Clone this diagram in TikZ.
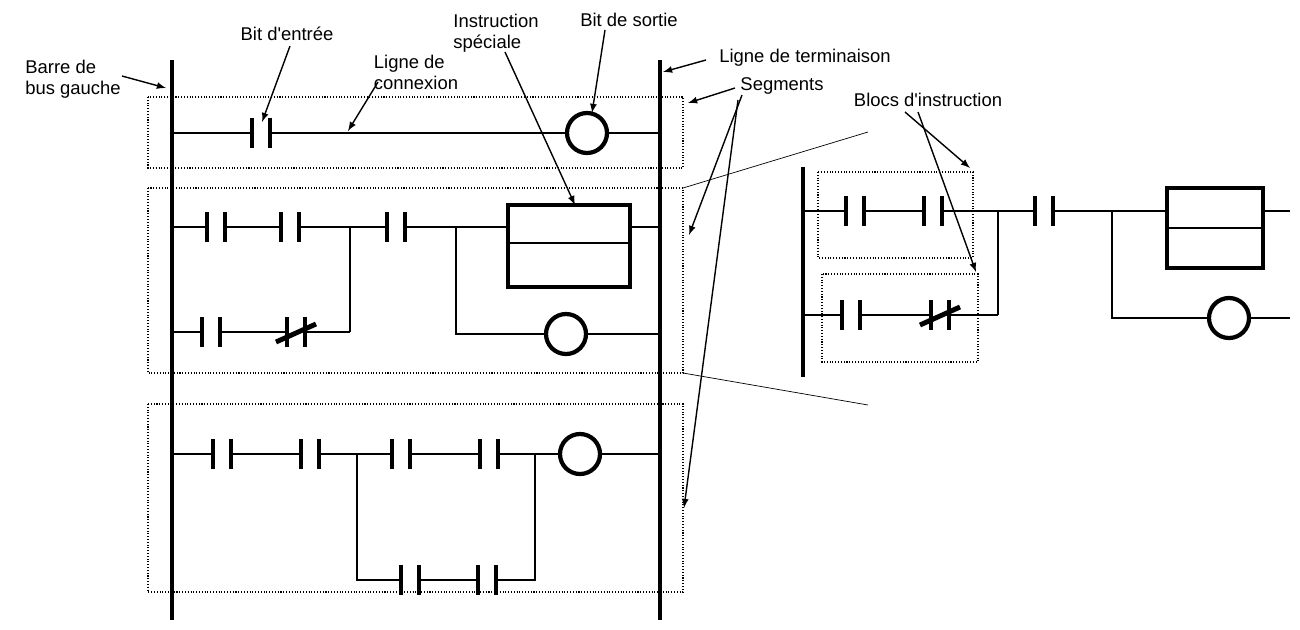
\documentclass[tikz,border=0pt]{standalone}
\usepackage{fontspec}
\setmainfont{Liberation Sans}
\usetikzlibrary{positioning}

% rung elements
\newcommand{\nocont}[2]{%
  \fill[white] (#1-8,#2-4) rectangle (#1+8,#2+4);
  \draw[contact] (#1-9,#2-15) -- (#1-9,#2+15) (#1+9,#2-15) -- (#1+9,#2+15);}
\newcommand{\nccont}[2]{%
  \nocont{#1}{#2}
  \draw[contact] (#1-20,#2+10) -- (#1+20,#2-8);}
\newcommand{\outcoil}[2]{%
  \filldraw[coil,fill=white] (#1,#2) circle[radius=20];}

\begin{document}
\begin{tikzpicture}[x=0.02cm,y=-0.02cm,
    rail/.style={line width=1.8pt},
    wire/.style={line width=1.2pt},
    contact/.style={line width=2.8pt},
    coil/.style={line width=2.4pt},
    frame/.style={densely dotted,line width=0.6pt},
    lab/.style={font=\fontsize{10.5}{12}\selectfont,align=left,inner sep=1pt},
    ptr/.style={-latex,line width=0.8pt}]
\useasboundingbox (0,0) rectangle (1300,629);

% segment frames
\draw[frame] (148,97) rectangle (683,168);
\draw[frame] (148,188) rectangle (683,373);
\draw[frame] (148,404) rectangle (683,592);

% rails
\draw[rail] (172,60) -- (172,620);
\draw[rail] (660,60) -- (660,620);

% segment 1
\draw[wire] (172,133) -- (660,133);
\nocont{261}{133}
\outcoil{587}{133}

% segment 2
\draw[wire] (172,227) -- (508,227) (630,227) -- (660,227);
\draw[wire] (350,227) -- (350,332) (172,332) -- (350,332);
\draw[wire] (456,227) -- (456,334) -- (660,334);
\nocont{216}{227}
\nocont{290}{227}
\nocont{396}{227}
\nocont{211}{332}
\nccont{296}{332}
\draw[line width=2pt] (508,205) rectangle (630,287);
\draw[wire] (508,243) -- (630,243);
\outcoil{566}{334}

% segment 3
\draw[wire] (172,454) -- (660,454);
\draw[wire] (357,454) -- (357,580) -- (535,580) -- (535,454);
\nocont{222}{454}
\nocont{310}{454}
\nocont{401}{454}
\nocont{489}{454}
\nocont{410}{580}
\nocont{487}{580}
\outcoil{580}{454}

% zoomed segment
\draw[thin] (683,188) -- (868,132);
\draw[thin] (683,373) -- (868,405);
\draw[frame] (818,172) rectangle (973,258);
\draw[frame] (822,274) rectangle (978,362);
\draw[rail] (803,167) -- (803,377);
\draw[wire] (803,211) -- (1167,211) (1263,211) -- (1290,211);
\draw[wire] (998,211) -- (998,315) (803,315) -- (998,315);
\draw[wire] (1112,211) -- (1112,318) -- (1290,318);
\nocont{855}{211}
\nocont{933}{211}
\nocont{1044}{211}
\nocont{851}{315}
\nccont{940}{315}
\draw[line width=2pt] (1167,188) rectangle (1263,268);
\draw[wire] (1167,228) -- (1263,228);
\outcoil{1229}{318}

% labels
\node[lab] (barre) at (73,79) {Barre de\\bus gauche};
\node[lab] (bitin) at (287,34) {Bit d\textquotesingle entrée};
\node[lab] (ligne) at (416,72) {Ligne de\\connexion};
\node[lab] (instr) at (496,33) {Instruction\\spéciale};
\node[lab] (bitout) at (629,20) {Bit de sortie};
\node[lab] (term) at (805,58) {Ligne de terminaison};
\node[lab] (segs) at (782,86) {Segments};
\node[lab] (blocs) at (928,100) {Blocs d\textquotesingle instruction};

\coordinate (pBarre) at (166,88);
\coordinate (pBitin) at (262,122);
\coordinate (pLigne) at (348,131);
\coordinate (pInstr) at (575,205);
\coordinate (pBitout) at (592,113);
\coordinate (pTerm) at (663,72);
\coordinate (pSeg1) at (688,103);
\coordinate (pSeg2) at (689,235);
\coordinate (pSeg3) at (684,508);
\coordinate (pBlk1) at (970,168);
\coordinate (pBlk2) at (976,272);

\draw[ptr] (122,76) -- (pBarre);
\draw[ptr] (290,46) -- (pBitin);
\draw[ptr] (378,82) -- (pLigne);
\draw[ptr] (505,52) -- (pInstr);
\draw[ptr] (605,30) -- (pBitout);
\draw[ptr] (706,60) -- (pTerm);
\draw[ptr] (735,88) -- (pSeg1);
\draw[ptr] (742,95) -- (pSeg2);
\draw[ptr] (738,100) -- (pSeg3);
\draw[ptr] (905,112) -- (pBlk1);
\draw[ptr] (918,112) -- (pBlk2);
\end{tikzpicture}
\end{document}
